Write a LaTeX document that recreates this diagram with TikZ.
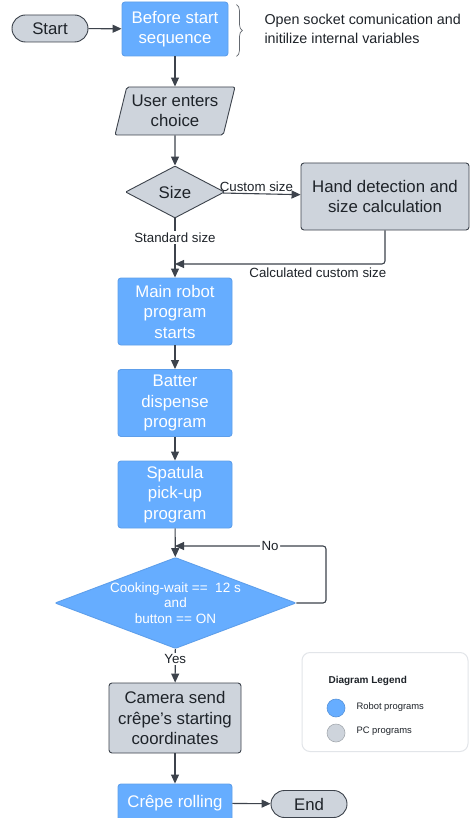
\documentclass[tikz,border=0pt]{standalone}
\usepackage{fontspec}
\setmainfont{Liberation Sans}
\usetikzlibrary{arrows.meta,shapes.geometric,decorations.pathreplacing}
\definecolor{ink}{HTML}{1E2329}
\definecolor{edge}{HTML}{3D434C}
\definecolor{robot}{HTML}{66ADFF}
\definecolor{pc}{HTML}{CED4DC}
\definecolor{frame}{HTML}{E2E5E9}
\tikzset{
  basebox/.style={draw=edge,line width=0.9pt,rounded corners=3pt,align=center,inner sep=2pt,
    font=\fontsize{16.8}{20.5}\selectfont},
  robotbox/.style={basebox,draw=robot!92!black,fill=robot,text=white,minimum width=114pt,minimum height=67pt},
  pcbox/.style={basebox,fill=pc,text=ink},
  termbox/.style={basebox,fill=pc,text=ink,rounded corners=13.5pt,minimum width=76pt,minimum height=27pt},
  decbox/.style={basebox,shape=diamond,rounded corners=1pt,inner sep=0pt},
  arrow/.style={-{Triangle[length=9pt,width=8pt]},line width=1.1pt,draw=edge},
  flowlab/.style={font=\fontsize{13.3}{15}\selectfont,text=ink,fill=white,inner sep=1.5pt}
}
\begin{document}
\begin{tikzpicture}[
    x=1pt,y=-1pt,
    note/.style={font=\fontsize{14.3}{19}\selectfont,text=ink,align=left,anchor=west},
    brace/.style={decorate,decoration={brace,amplitude=6pt},line width=0.7pt,draw=edge!80},
    legdot/.style={circle,minimum size=18pt,inner sep=0pt,line width=0.6pt},
    legtext/.style={font=\fontsize{9.4}{11}\selectfont,text=ink,anchor=west}
  ]
  \clip (0,0) rectangle (471,818);
  \fill[white] (0,0) rectangle (471,818);

  % top row
  \node[termbox] (start) at (50,28.5) {Start};
  \node[robotbox,minimum width=106pt,minimum height=54pt] (before) at (175,29) {Before start\\sequence};
  \draw[brace] ([xshift=8pt,yshift=-3pt]before.north east) -- ([xshift=8pt]before.south east);
  \node[note] (socket) at (261,29) {Open socket comunication and\\initilize internal variables};

  % choice and size
  \node[pcbox,shape=trapezium,trapezium left angle=72,trapezium right angle=108,trapezium stretches body,
    inner xsep=0pt,minimum width=120pt,minimum height=48pt,rounded corners=2pt] (choice) at (175,111) {User enters\\choice};
  \node[decbox,fill=pc,text=ink,aspect=1.9,minimum width=99pt,minimum height=52pt] (size) at (175,192) {Size};
  \node[pcbox,minimum width=168pt,minimum height=67pt] (hand) at (385,196.5) {Hand detection and\\size calculation};
  \coordinate (merge) at (175,264);

  % robot programs
  \node[robotbox] (main) at (175,311.5) {Main robot\\program\\starts};
  \node[robotbox] (batter) at (175,403) {Batter\\dispense\\program};
  \node[robotbox] (spatula) at (175,494.5) {Spatula\\pick-up\\program};
  \node[decbox,draw=robot!92!black,fill=robot,text=white,aspect=2.65,minimum width=241pt,minimum height=91pt,
    font=\fontsize{13.5}{15.5}\selectfont] (cook) at (175.5,603) {Cooking-wait ==\ \ 12 s\\and\\button == ON};
  \coordinate (noturn) at (326,546);
  \coordinate (loop) at (175,546);
  \node[pcbox,minimum width=132pt,minimum height=70pt] (camera) at (175,718) {Camera send\\crêpe's starting\\coordinates};
  \node[robotbox,minimum height=38pt] (rolling) at (175,803) {Crêpe rolling};
  \node[termbox] (end) at (309,804) {End};

  % legend
  \node[draw=frame,line width=1pt,fill=white,rounded corners=8pt,minimum width=166pt,minimum height=99pt] (legend) at (385,702) {};
  \node[legtext,font=\fontsize{10}{12}\selectfont\bfseries] (legtitle) at (325,681) {Diagram Legend};
  \node[legdot,fill=robot,draw=robot!85!black] (robotdot) at (336,708) {};
  \node[legtext] (robotlab) at (353,707) {Robot programs};
  \node[legdot,fill=pc,draw=pc!80!black] (pcdot) at (336,733) {};
  \node[legtext] (pclab) at (353,731) {PC programs};

  % connectors
  \draw[arrow] (start) -- (before);
  \draw[arrow] (before) -- (choice);
  \draw[arrow] (choice) -- (size);
  \draw[arrow] (size) -- node[flowlab,above,pos=0.43,fill=none] {Custom size} (hand);
  \draw[arrow] (size) -- node[flowlab,pos=0.32] {Standard size} (main);
  \draw[arrow,rounded corners=3pt] (hand.south) |- node[flowlab,below,pos=0.66,fill=none,yshift=-2pt] {Calculated custom size} (merge);
  \draw[arrow] (main) -- (batter);
  \draw[arrow] (batter) -- (spatula);
  \draw[arrow] (spatula) -- (cook);
  \draw[arrow,rounded corners=3pt] (cook.east) -| (noturn) -- node[flowlab,pos=0.37] {No} (loop);
  \draw[arrow] (cook) -- node[flowlab,pos=0.3] {Yes} (camera);
  \draw[arrow] (camera) -- (rolling);
  \draw[arrow] (rolling) -- (end);
\end{tikzpicture}
\end{document}
